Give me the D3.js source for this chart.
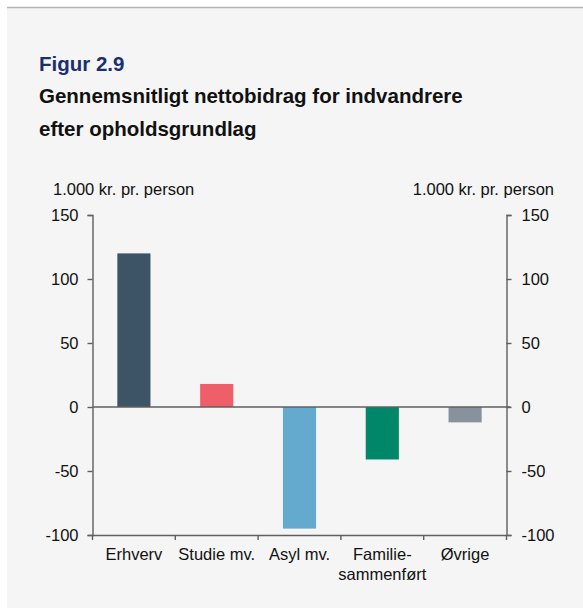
<!DOCTYPE html>
<html>
<head>
<meta charset="utf-8">
<script src="https://cdn.jsdelivr.net/npm/d3@7"></script>
<style>
  body { margin: 0; background: #fff; }
  svg text { font-family: "Liberation Sans", Arial, sans-serif; }
</style>
</head>
<body>
<svg id="chart"></svg>
<script>
// data
const categories = ["Erhverv", "Studie mv.", "Asyl mv.", "Familie-\nsammenført", "Øvrige"];
const values = [120, 18, -95, -41, -12];
const barColors = ["#3d5366", "#ef5f6a", "#64aacf", "#00876a", "#87929c"];
const yTicks = [-100, -50, 0, 50, 100, 150];
const unitLabel = "1.000 kr. pr. person";

const W = 583, H = 608;
const plot = {left: 92.5, right: 506.5, top: 215, bottom: 535};

const svg = d3.select("#chart")
    .attr("width", W)
    .attr("height", H);

// panel
svg.append("rect")
    .attr("x", 7).attr("y", 7)
    .attr("width", W - 7).attr("height", H - 7)
    .attr("fill", "#f5f5f5");
svg.append("line")
    .attr("x1", 7).attr("x2", W)
    .attr("y1", 7.5).attr("y2", 7.5)
    .attr("stroke", "#b4b4b4")
    .attr("stroke-width", 1.5);

// titles
svg.append("text")
    .attr("x", 39).attr("y", 71)
    .attr("font-size", 20.5).attr("font-weight", "bold")
    .attr("fill", "#1b2f6e")
    .text("Figur 2.9");
svg.append("text")
    .attr("x", 39).attr("y", 103)
    .attr("font-size", 20.5).attr("font-weight", "bold")
    .attr("fill", "#111")
    .text("Gennemsnitligt nettobidrag for indvandrere");
svg.append("text")
    .attr("x", 39).attr("y", 136)
    .attr("font-size", 20.5).attr("font-weight", "bold")
    .attr("fill", "#111")
    .text("efter opholdsgrundlag");

// unit labels
svg.append("text")
    .attr("x", 53).attr("y", 195)
    .attr("font-size", 16.5).attr("fill", "#111")
    .text(unitLabel);
svg.append("text")
    .attr("x", 554).attr("y", 195)
    .attr("text-anchor", "end")
    .attr("font-size", 16.5).attr("fill", "#111")
    .text(unitLabel);

const x = d3.scaleBand()
    .domain(categories)
    .range([plot.left, plot.right])
    .paddingInner(0.6)
    .paddingOuter(0.3);

const y = d3.scaleLinear()
    .domain([-100, 150])
    .range([plot.bottom, plot.top]);

const axisColor = "#5f5f5f";
const fmt = d => String(d);

// bars
svg.selectAll("rect.bar")
    .data(values)
    .enter()
    .append("rect")
    .attr("class", "bar")
    .attr("x", (d, i) => x(categories[i]))
    .attr("width", x.bandwidth())
    .attr("y", d => y(Math.max(0, d)))
    .attr("height", d => Math.abs(y(d) - y(0)))
    .attr("fill", (d, i) => barColors[i]);

// y axes
const leftAxis = svg.append("g")
    .attr("transform", "translate(" + plot.left + ",0)")
    .call(d3.axisLeft(y).tickValues(yTicks).tickFormat(fmt).tickSize(5).tickPadding(9));
const rightAxis = svg.append("g")
    .attr("transform", "translate(" + plot.right + ",0)")
    .call(d3.axisRight(y).tickValues(yTicks).tickFormat(fmt).tickSize(5).tickPadding(10));

[leftAxis, rightAxis].forEach(g => {
    g.select(".domain").attr("stroke", axisColor).attr("stroke-width", 1.4);
    g.selectAll(".tick line").attr("stroke", axisColor).attr("stroke-width", 1.4);
    g.selectAll(".tick text")
        .attr("font-size", 16.5)
        .attr("fill", "#111")
        .attr("font-family", "'Liberation Sans', Arial, sans-serif");
});

// zero line
svg.append("line")
    .attr("x1", plot.left).attr("x2", plot.right + 4)
    .attr("y1", y(0)).attr("y2", y(0))
    .attr("stroke", axisColor).attr("stroke-width", 1.4);

// x axis at the bottom
const xAxis = svg.append("g")
    .attr("transform", "translate(0," + plot.bottom + ")")
    .call(d3.axisBottom(x).tickSize(0).tickFormat(""));
xAxis.select(".domain").attr("stroke", axisColor).attr("stroke-width", 1.4);

// category boundary ticks
const bounds = categories.map((c, i) => plot.left + i * x.step());
bounds.push(plot.right);
svg.selectAll("line.ctick")
    .data(bounds)
    .enter()
    .append("line")
    .attr("class", "ctick")
    .attr("x1", d => d).attr("x2", d => d)
    .attr("y1", plot.bottom).attr("y2", plot.bottom + 5)
    .attr("stroke", axisColor).attr("stroke-width", 1.4);

// category labels
const labels = svg.selectAll("text.cat")
    .data(categories)
    .enter()
    .append("text")
    .attr("class", "cat")
    .attr("text-anchor", "middle")
    .attr("font-size", 16.5)
    .attr("fill", "#111")
    .attr("x", d => x(d) + x.bandwidth() / 2)
    .attr("y", 560);
labels.each(function(d) {
    const t = d3.select(this);
    d.split("\n").forEach((part, i) => {
        t.append("tspan")
            .attr("x", x(d) + x.bandwidth() / 2)
            .attr("dy", i === 0 ? 0 : 20)
            .text(part);
    });
});
</script>
</body>
</html>
